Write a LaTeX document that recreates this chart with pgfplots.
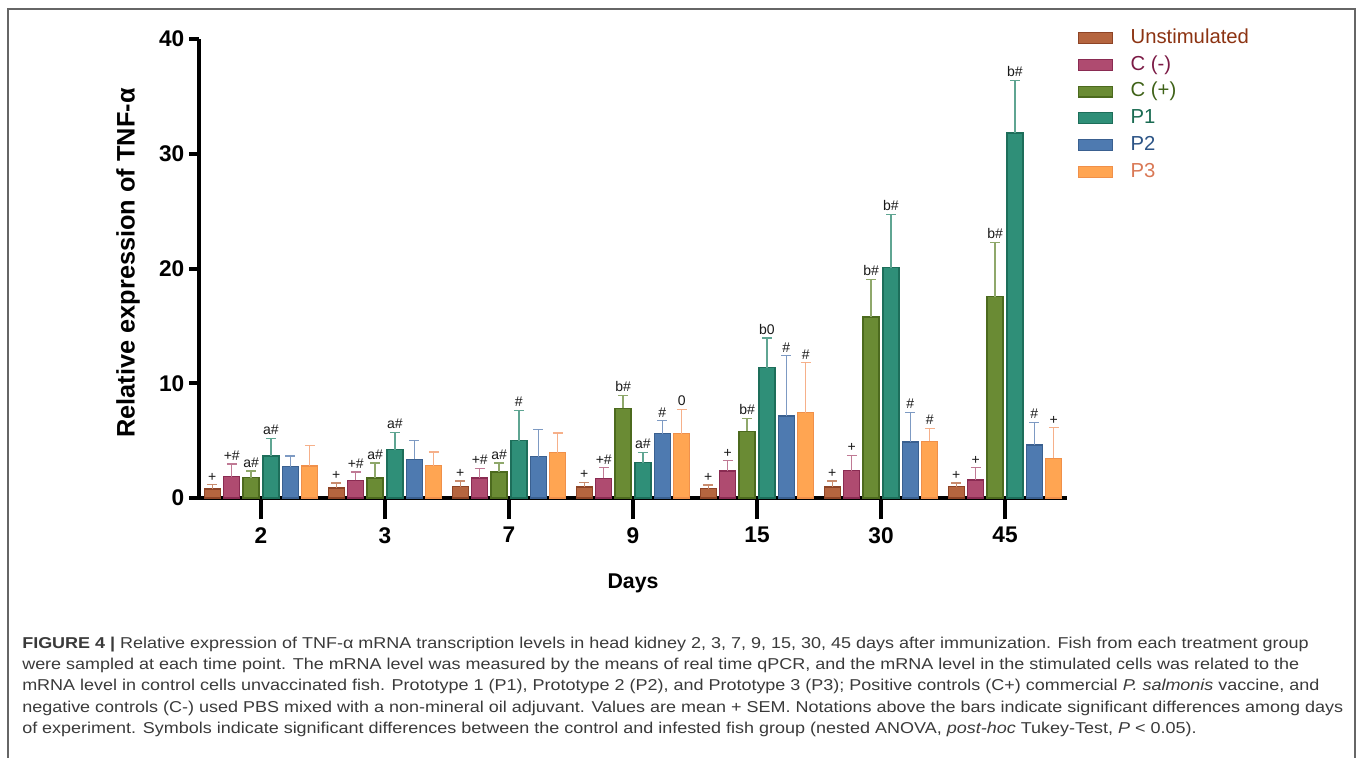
\documentclass[border=0pt]{standalone}
\usepackage{pgfplots}
\pgfplotsset{compat=1.18}
\usepackage{pgfplotstable}
\usepackage{fontspec}
\setmainfont{Liberation Sans}
\newfontfamily\capfont[FakeStretch=1.143]{Liberation Sans}

\definecolor{unF}{HTML}{B5653F}\definecolor{unD}{HTML}{8E4426}\definecolor{unE}{HTML}{C98C6E}\definecolor{unT}{HTML}{8C3312}
\definecolor{cmF}{HTML}{AF4B70}\definecolor{cmD}{HTML}{8A2B52}\definecolor{cmE}{HTML}{C07A95}\definecolor{cmT}{HTML}{7B1A45}
\definecolor{cpF}{HTML}{6A8B34}\definecolor{cpD}{HTML}{4C6A1E}\definecolor{cpE}{HTML}{8FA86B}\definecolor{cpT}{HTML}{3F6218}
\definecolor{p1F}{HTML}{2F8F78}\definecolor{p1D}{HTML}{1D6E5A}\definecolor{p1E}{HTML}{5FA592}\definecolor{p1T}{HTML}{1A6B52}
\definecolor{p2F}{HTML}{4E7AB0}\definecolor{p2D}{HTML}{3A6090}\definecolor{p2E}{HTML}{7D9AC3}\definecolor{p2T}{HTML}{2C5486}
\definecolor{p3F}{HTML}{FFA552}\definecolor{p3D}{HTML}{F0904A}\definecolor{p3E}{HTML}{F6B08A}\definecolor{p3T}{HTML}{D97855}
\definecolor{capT}{HTML}{3A3A3A}

% x: 0..6 = days 2,3,7,9,15,30,45 ; y = mean ; e = SEM
\pgfplotstableread{
x y e lab
0 0.78 0.38 +
1 0.87 0.44 +
2 0.99 0.49 +
3 0.96 0.40 +
4 0.81 0.32 +
5 0.96 0.52 +
6 0.99 0.32 +
}\tUn
\pgfplotstableread{
x y e lab
0 1.86 1.10 +\#
1 1.54 0.73 +\#
2 1.74 0.84 +\#
3 1.71 0.93 +\#
4 2.35 0.90 +
5 2.38 1.34 +
6 1.57 1.07 +
}\tCm
\pgfplotstableread{
x y e lab
0 1.77 0.58 a\#
1 1.74 1.31 a\#
2 2.27 0.78 a\#
3 7.81 1.11 b\#
4 5.81 1.10 b\#
5 15.77 3.29 b\#
6 17.54 4.71 b\#
}\tCp
\pgfplotstableread{
x y e lab
0 3.66 1.51 a\#
1 4.21 1.48 a\#
2 4.99 2.65 \#
3 3.08 0.87 a\#
4 11.36 2.58 b0
5 20.07 4.65 b\#
6 31.80 4.60 b\#
}\tPa
\pgfplotstableread{
x y e lab
0 2.73 0.93 {}
1 3.37 1.62 {}
2 3.60 2.35 {}
3 5.61 1.13 \#
4 7.15 5.25 \#
5 4.88 2.59 \#
6 4.62 1.98 \#
}\tPb
\pgfplotstableread{
x y e lab
0 2.79 1.77 {}
1 2.82 1.19 {}
2 3.95 1.71 {}
3 5.61 2.12 0
4 7.44 4.35 \#
5 4.94 1.13 \#
6 3.46 2.67 +
}\tPc

\pgfplotsset{
  mybar/.style={ybar, bar width=0.129, bar shift=0pt,
    fill=#1F, draw=#1D, line width=1.1pt,
    error bars/.cd, y dir=plus, y explicit,
    error bar style={color=#1E, line width=1.1pt},
    error mark options={color=#1E, line width=1.1pt, mark size=3.6pt, rotate=90}},
  mylab/.style={forget plot, only marks, mark=*, mark size=0pt,
    mark options={draw=none, fill=none},
    nodes near coords, point meta=explicit symbolic,
    nodes near coords style={font=\fontsize{10.5}{11}\selectfont, anchor=south,
      inner sep=0pt, yshift=2.5pt, text=black!90}},
}

\begin{document}
\begin{tikzpicture}
\useasboundingbox (0,0) rectangle (1020pt,-567.75pt);
% frame
\draw[color=black!60, line width=1.1pt] (6pt,-570pt) -- (6pt,-6.9pt) -- (1016.4pt,-6.9pt) -- (1016.4pt,-570pt);

\begin{axis}[
  at={(149.25pt,-373.5pt)}, anchor=south west,
  scale only axis, width=651pt, height=344.25pt,
  xmin=-0.5, xmax=6.5, ymin=0, ymax=40,
  axis x line=bottom, axis y line=left,
  axis line style={-, line width=3pt, black},
  xtick={0,...,6}, xticklabels={2,3,7,9,15,30,45},
  ytick={0,10,20,30,40},
  tick align=outside, major tick length=7.5pt,
  tick style={line width=3pt, black},
  xtick style={/pgfplots/major tick length=16pt},
  ticklabel style={font=\fontsize{17}{19}\selectfont\bfseries},
  xticklabel style={yshift=-11pt},
  /pgf/number format/assume math mode=true,
  xlabel={Days}, ylabel={Relative expression of TNF-α},
  every axis x label/.style={at={(axis description cs:0.5,-0.185)}, anchor=center, font=\fontsize{16}{19}\selectfont\bfseries},
  every axis y label/.style={at={(axis description cs:-0.0818,0.512)}, rotate=90, anchor=center, font=\fontsize{19}{21}\selectfont\bfseries},
  clip=false,
  legend style={at={(axis description cs:1.0127,1.0233)}, anchor=north west,
    draw=none, fill=none, inner sep=0pt, column sep=13pt, row sep=6.1pt,
    font=\fontsize{15.2}{17}\selectfont,
    nodes={inner sep=0pt, text height=11pt, text depth=3pt}},
  legend cell align=left,
  legend image code/.code={\draw[#1, line width=0.8pt] (0pt,-4.1pt) rectangle (25.5pt,4.1pt);},
]
\addplot[mybar=un] table[x expr=\thisrow{x}-0.393, y=y, y error=e]{\tUn};
\addlegendentry{\textcolor{unT}{Unstimulated}}
\addplot[mybar=cm] table[x expr=\thisrow{x}-0.236, y=y, y error=e]{\tCm};
\addlegendentry{\textcolor{cmT}{C (-)}}
\addplot[mybar=cp] table[x expr=\thisrow{x}-0.079, y=y, y error=e]{\tCp};
\addlegendentry{\textcolor{cpT}{C (+)}}
\addplot[mybar=p1] table[x expr=\thisrow{x}+0.079, y=y, y error=e]{\tPa};
\addlegendentry{\textcolor{p1T}{P1}}
\addplot[mybar=p2] table[x expr=\thisrow{x}+0.236, y=y, y error=e]{\tPb};
\addlegendentry{\textcolor{p2T}{P2}}
\addplot[mybar=p3] table[x expr=\thisrow{x}+0.393, y=y, y error=e]{\tPc};
\addlegendentry{\textcolor{p3T}{P3}}

\addplot[mylab] table[x expr=\thisrow{x}-0.393, y expr=\thisrow{y}+\thisrow{e}, meta=lab]{\tUn};
\addplot[mylab] table[x expr=\thisrow{x}-0.236, y expr=\thisrow{y}+\thisrow{e}, meta=lab]{\tCm};
\addplot[mylab] table[x expr=\thisrow{x}-0.079, y expr=\thisrow{y}+\thisrow{e}, meta=lab]{\tCp};
\addplot[mylab] table[x expr=\thisrow{x}+0.079, y expr=\thisrow{y}+\thisrow{e}, meta=lab]{\tPa};
\addplot[mylab] table[x expr=\thisrow{x}+0.236, y expr=\thisrow{y}+\thisrow{e}, meta=lab]{\tPb};
\addplot[mylab] table[x expr=\thisrow{x}+0.393, y expr=\thisrow{y}+\thisrow{e}, meta=lab]{\tPc};
\end{axis}

% caption
\begin{scope}[every node/.style={anchor=base west, inner sep=0pt, text=capT, font=\capfont\fontsize{11.8}{14}\selectfont}]
\node at (16.5pt,-486pt) {\textbf{FIGURE 4 |} Relative expression of TNF-α mRNA transcription levels in head kidney 2, 3, 7, 9, 15, 30, 45 days after immunization. Fish from each treatment group};
\node at (16.5pt,-502pt) {were sampled at each time point. The mRNA level was measured by the means of real time qPCR, and the mRNA level in the stimulated cells was related to the};
\node at (16.5pt,-518pt) {mRNA level in control cells unvaccinated fish. Prototype 1 (P1), Prototype 2 (P2), and Prototype 3 (P3); Positive controls (C+) commercial \textit{P. salmonis} vaccine, and};
\node at (16.5pt,-534pt) {negative controls (C-) used PBS mixed with a non-mineral oil adjuvant. Values are mean + SEM. Notations above the bars indicate significant differences among days};
\node at (16.5pt,-550pt) {of experiment. Symbols indicate significant differences between the control and infested fish group (nested ANOVA, \textit{post-hoc} Tukey-Test, \textit{P} < 0.05).};
\end{scope}
\end{tikzpicture}
\end{document}
